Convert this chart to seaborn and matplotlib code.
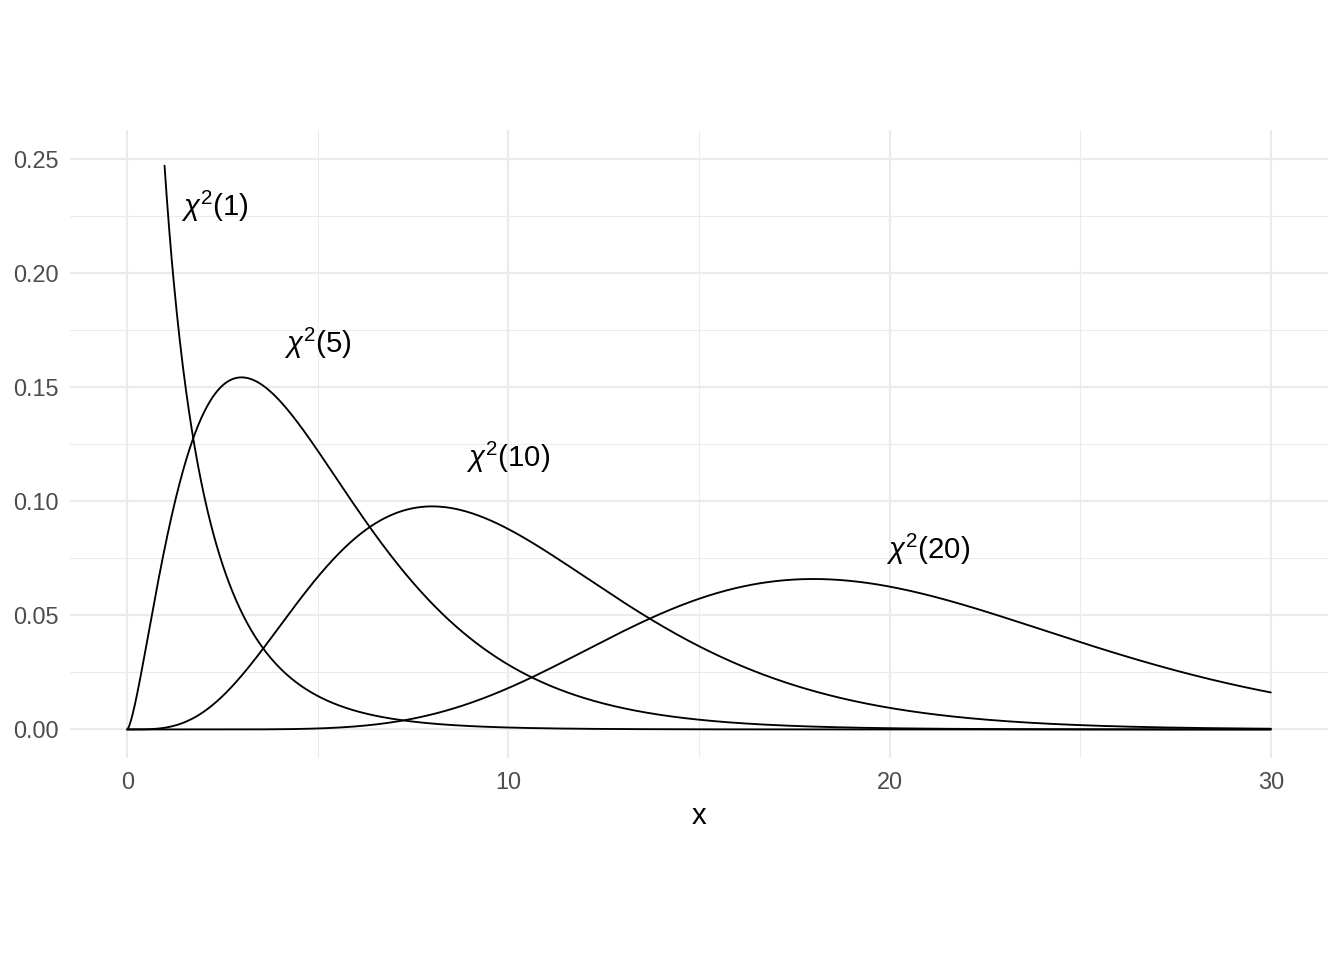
import math
import numpy as np
import pandas as pd
import matplotlib
matplotlib.use('Agg')
import matplotlib.pyplot as plt
import seaborn as sns

# degrees of freedom of the curves and where the labels sit
dfs = [1, 5, 10, 20]
label_x = [2.3, 5, 10, 21]
label_y = [0.229, 0.169, 0.119, 0.079]
x_ticks = [0, 10, 20, 30]
y_ticks = [0.00, 0.05, 0.10, 0.15, 0.20, 0.25]

sns.set_style('white')
plt.rcParams['font.family'] = ['Liberation Sans', 'DejaVu Sans']
plt.rcParams['mathtext.fontset'] = 'custom'
plt.rcParams['mathtext.rm'] = 'Liberation Sans'
plt.rcParams['mathtext.it'] = 'Liberation Sans:italic'

# chi-square density curves
xs = np.linspace(0, 30, 1501)
rows = []
for k in dfs:
    with np.errstate(divide='ignore', invalid='ignore'):
        y = xs ** (k / 2 - 1) * np.exp(-xs / 2) / (2 ** (k / 2) * math.gamma(k / 2))
    y = np.where(np.isfinite(y) & (y <= 0.25), y, np.nan)
    rows.append(pd.DataFrame({'x': xs, 'y': y, 'df': k}))
data = pd.concat(rows).dropna()

fig = plt.figure(figsize=(7, 5), dpi=192)
ax = fig.add_axes([70 / 1344, 1 - 758 / 960, (1328 - 70) / 1344, (758 - 130) / 960])

sns.lineplot(data=data, x='x', y='y', units='df', estimator=None,
             color='black', linewidth=0.7, ax=ax, sort=False)

for k, lx, ly in zip(dfs, label_x, label_y):
    ax.text(lx, ly, r'$\chi^2$(' + str(k) + ')', fontsize=11, ha='center',
            va='center', color='black')

ax.set_xlim(-1.5, 31.5)
ax.set_ylim(-0.0125, 0.2625)
ax.set_xticks(x_ticks)
ax.set_xticklabels([str(t) for t in x_ticks])
ax.set_yticks(y_ticks)
ax.set_yticklabels([f'{t:.2f}' for t in y_ticks])
ax.set_xticks([5, 15, 25], minor=True)
ax.set_yticks([0.025, 0.075, 0.125, 0.175, 0.225], minor=True)
ax.grid(which='major', color='#EBEBEB', linewidth=0.8)
ax.grid(which='minor', color='#EBEBEB', linewidth=0.4)
ax.set_axisbelow(True)
ax.tick_params(which='both', length=0, labelsize=8.8, labelcolor='#4D4D4D')
ax.tick_params(axis='x', pad=5)
ax.tick_params(axis='y', pad=4.2)
for s in ax.spines.values():
    s.set_visible(False)
ax.set_xlabel('x', fontsize=11, labelpad=3, color='black')
ax.set_ylabel('')

fig.savefig('out.png', dpi=192)
